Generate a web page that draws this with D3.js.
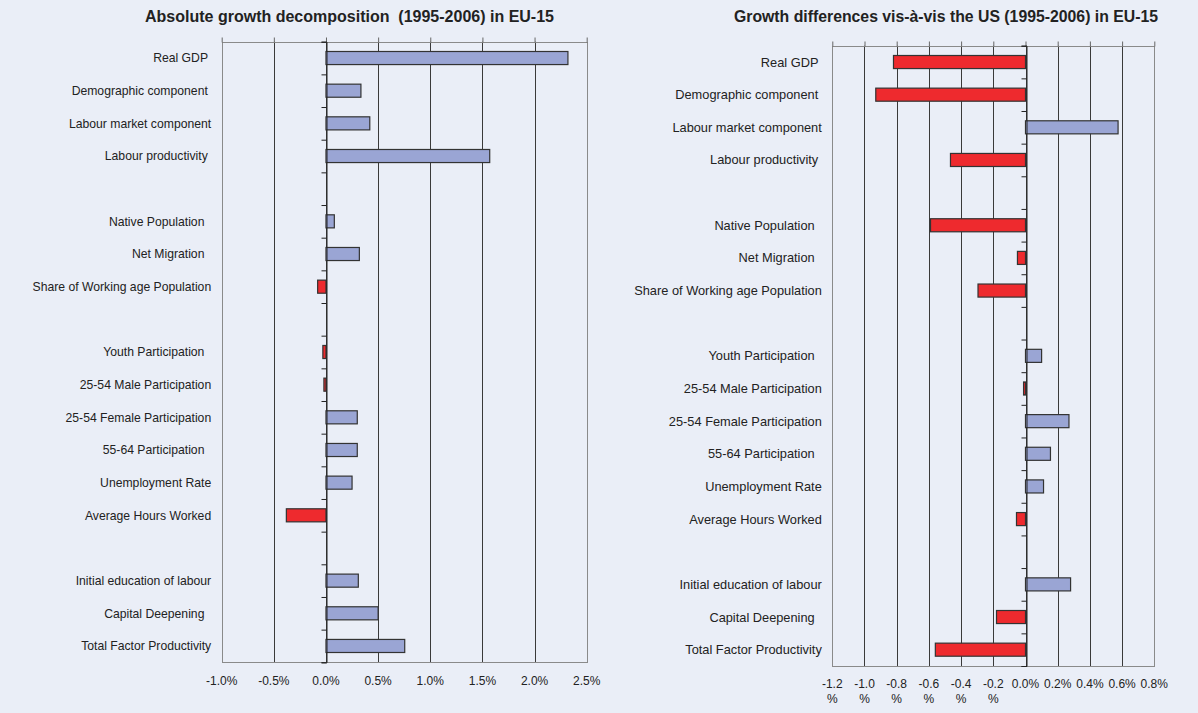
<!DOCTYPE html>
<html>
<head>
<meta charset="utf-8">
<script src="https://cdn.jsdelivr.net/npm/d3@7"></script>
<style>
  body { margin: 0; background: #eaeef7; }
  text { font-family: "Liberation Sans", Arial, sans-serif; fill: #222; white-space: pre; }
</style>
</head>
<body>
<div id="container"></div>
<script>
/* CONSTANTS AND GLOBALS */
const width = 1198,
  height = 713;

// categories, null = empty slot between groups
const categories = [
  "Real GDP ", "Demographic component ", "Labour market component", "Labour productivity ",
  null,
  "Native Population  ", "Net Migration  ", "Share of Working age Population",
  null,
  "Youth Participation  ", "25-54 Male Participation", "25-54 Female Participation",
  "55-64 Participation  ", "Unemployment Rate", "Average Hours Worked",
  null,
  "Initial education of labour", "Capital Deepening  ", "Total Factor Productivity"
];

// absolute growth, % per year
const absoluteGrowth = [
  2.32, 0.335, 0.42, 1.57,
  null,
  0.08, 0.32, -0.08,
  null,
  -0.03, -0.02, 0.30, 0.30, 0.25, -0.38,
  null,
  0.31, 0.50, 0.755
];

// differences vis-a-vis the US, % per year
const usDifference = [
  -0.82, -0.93, 0.575, -0.466,
  null,
  -0.59, -0.05, -0.295,
  null,
  0.10, -0.012, 0.27, 0.155, 0.112, -0.056,
  null,
  0.28, -0.18, -0.56
];

const leftTicks = [-1.0, -0.5, 0.0, 0.5, 1.0, 1.5, 2.0, 2.5];
const rightTicks = [-1.2, -1.0, -0.8, -0.6, -0.4, -0.2, 0.0, 0.2, 0.4, 0.6, 0.8];

const leftTitle = "Absolute growth decomposition  (1995-2006) in EU-15";
const rightTitle = "Growth differences vis-à-vis the US (1995-2006) in EU-15";

const keys = categories.map((c, i) => "row" + i);

const svg = d3.select("#container")
  .append("svg")
  .attr("width", width)
  .attr("height", height)

svg.append("rect")
  .attr("width", width)
  .attr("height", height)
  .attr("fill", "#eaeef7")

function drawChart(cfg) {
  const g = svg.append("g")

  const x = d3.scaleLinear()
    .domain([cfg.ticks[0], cfg.ticks[cfg.ticks.length - 1]])
    .range([cfg.left, cfg.right])

  const y = d3.scaleBand()
    .domain(keys)
    .range([cfg.top, cfg.bottom])
    .paddingInner(0.6)
    .paddingOuter(0.3)

  const slot = d3.scaleLinear()
    .domain([0, keys.length])
    .range([cfg.top, cfg.bottom])

  // title
  g.append("text")
    .attr("x", cfg.titleX)
    .attr("y", 22)
    .attr("text-anchor", "middle")
    .attr("font-size", cfg.titleSize)
    .attr("font-weight", "bold")
    .text(cfg.title)

  // gridlines
  g.selectAll("line.grid")
    .data(cfg.ticks.slice(1, -1))
    .join("line")
    .attr("class", "grid")
    .attr("x1", d => Math.round(x(d)) + 0.5)
    .attr("x2", d => Math.round(x(d)) + 0.5)
    .attr("y1", cfg.top)
    .attr("y2", cfg.bottom)
    .attr("stroke", "#3a3a3a")

  // frame
  g.append("rect")
    .attr("x", Math.round(cfg.left) + 0.5)
    .attr("y", Math.round(cfg.top) + 0.5)
    .attr("width", Math.round(cfg.right) - Math.round(cfg.left))
    .attr("height", Math.round(cfg.bottom) - Math.round(cfg.top))
    .attr("fill", "none")
    .attr("stroke", "#8a8a8a")

  // ticks on top
  g.append("g")
    .attr("transform", `translate(0, ${Math.round(cfg.top) + 0.5})`)
    .call(d3.axisTop(x).tickValues(cfg.ticks).tickSize(5).tickFormat(""))
    .call(a => a.select(".domain").remove())
    .call(a => a.selectAll(".tick line").attr("stroke", "#666"))

  // tick labels at bottom
  const lab = g.selectAll("text.xlab")
    .data(cfg.ticks)
    .join("text")
    .attr("class", "xlab")
    .attr("x", d => x(d))
    .attr("y", cfg.labelY)
    .attr("text-anchor", "middle")
    .attr("font-size", 12)
    .attr("fill", "#333")

  if (cfg.wrapNegative) {
    lab.each(function (d) {
      const t = d3.select(this)
      const s = d.toFixed(1)
      if (d < 0) {
        t.append("tspan").attr("x", x(d)).text(s)
        t.append("tspan").attr("x", x(d)).attr("dy", 15).text("%")
      } else {
        t.text(s + "%")
      }
    })
  } else {
    lab.text(d => d.toFixed(1) + "%")
  }

  // category labels
  g.selectAll("text.cat")
    .data(categories.map((c, i) => ({ c, k: keys[i] })).filter(d => d.c))
    .join("text")
    .attr("class", "cat")
    .attr("xml:space", "preserve")
    .attr("x", cfg.left - 10.5)
    .attr("y", d => y(d.k) + y.bandwidth() / 2)
    .attr("dy", "0.35em")
    .attr("text-anchor", "end")
    .attr("font-size", cfg.catSize)
    .attr("fill", "#333")
    .text(d => d.c)

  // bars
  g.selectAll("rect.bar")
    .data(cfg.values.map((v, i) => ({ v, k: keys[i] })).filter(d => d.v !== null))
    .join("rect")
    .attr("class", "bar")
    .attr("x", d => x(Math.min(0, d.v)))
    .attr("width", d => Math.abs(x(d.v) - x(0)))
    .attr("y", d => y(d.k))
    .attr("height", y.bandwidth())
    .attr("fill", d => d.v < 0 ? "#ee2a2e" : "#9aa5d4")
    .attr("stroke", "#333")
    .attr("stroke-width", 1.2)

  // category axis at zero
  g.append("g")
    .attr("transform", `translate(${Math.round(x(0)) + 0.5}, 0)`)
    .call(d3.axisLeft(slot).tickValues(d3.range(0, keys.length + 1)).tickSize(5).tickFormat(""))
    .call(a => a.select(".domain").attr("stroke", "#222"))
    .call(a => a.selectAll(".tick line").attr("stroke", "#222"))
}

drawChart({
  values: absoluteGrowth,
  ticks: leftTicks,
  title: leftTitle,
  titleX: 349.5,
  titleSize: 16,
  left: 221.7, right: 586.7, top: 41.7, bottom: 662.3,
  labelY: 685,
  catSize: 12.2,
  wrapNegative: false
})

drawChart({
  values: usDifference,
  ticks: rightTicks,
  title: rightTitle,
  titleX: 946,
  titleSize: 15.8,
  left: 832.3, right: 1154.3, top: 45.7, bottom: 666,
  labelY: 688,
  catSize: 12.8,
  wrapNegative: true
})
</script>
</body>
</html>
